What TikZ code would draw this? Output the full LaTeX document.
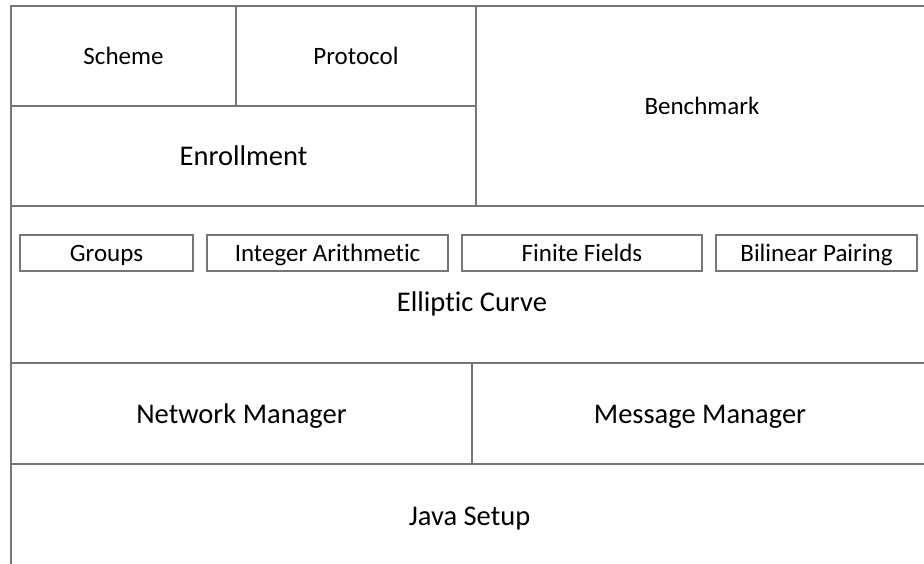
\documentclass[tikz,border=0pt]{standalone}
\usepackage{fontspec}
\setmainfont{Carlito}[Ligatures=NoCommon, RawFeature=-liga]
\definecolor{linegray}{RGB}{118,118,118}

\begin{document}
\begin{tikzpicture}[x=1pt, y=-1pt,
    layer/.style={draw=linegray, line width=1.3pt, rectangle, inner sep=0pt, outer sep=0pt,
      text depth=0pt, execute at begin node={\vphantom{Nk}}},
    big/.style={font=\fontsize{28.5}{34}\selectfont},
    small/.style={font=\fontsize{25}{30}\selectfont}]
  \useasboundingbox (0,0) rectangle (924,563);
  % applications on top
  \node[layer, small, minimum width=225pt, minimum height=100pt] (scheme) at (123.5,56) {Scheme};
  \node[layer, small, minimum width=240pt, minimum height=100pt] (protocol) at (356,56) {Protocol};
  \node[layer, big, minimum width=465pt, minimum height=100pt] (enroll) at (243.5,156) {Enrollment};
  \node[layer, small, minimum width=452pt, minimum height=200pt] (bench) at (702,106) {Benchmark};
  % curve layer and its parts
  \node[layer, minimum width=917pt, minimum height=157pt] (curve) at (469.5,284.5) {};
  \node[big, inner sep=0pt, text depth=0pt] (curvelbl) at (472,302) {Elliptic Curve};
  \node[layer, small, minimum width=173pt, minimum height=36pt] (groups) at (106.5,253) {Groups};
  \node[layer, small, minimum width=241pt, minimum height=36pt] (intarith) at (327.5,253) {Integer Arithmetic};
  \node[layer, small, minimum width=240pt, minimum height=36pt] (fields) at (582,253) {Finite Fields};
  \node[layer, small, minimum width=201pt, minimum height=36pt] (pairing) at (816.5,253) {Bilinear Pairing};
  % managers
  \node[layer, big, minimum width=461pt, minimum height=101pt] (netmgr) at (241.5,413.5) {Network Manager};
  \node[layer, big, minimum width=456pt, minimum height=101pt] (msgmgr) at (700,413.5) {Message Manager};
  % base
  \node[layer, big, minimum width=917pt, minimum height=104pt] (java) at (469.5,516) {Java Setup};
\end{tikzpicture}
\end{document}
